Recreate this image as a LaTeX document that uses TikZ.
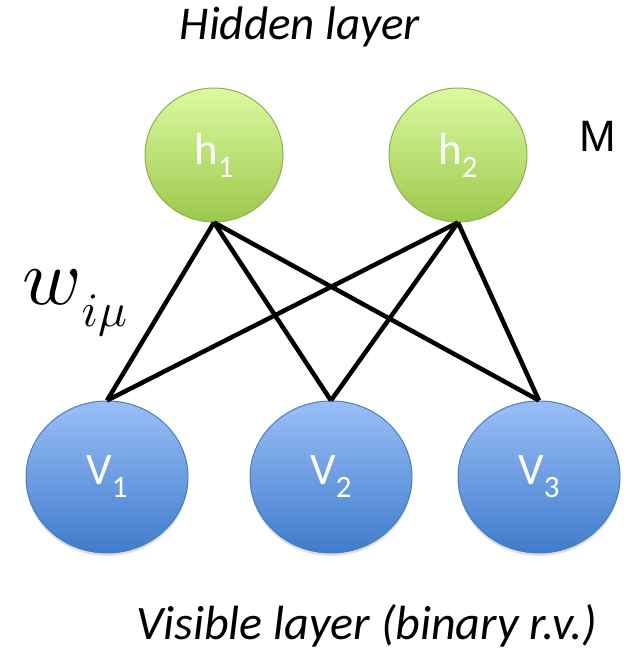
\documentclass[tikz,border=0pt]{standalone}
\usepackage{fontspec}
\usepackage{graphicx}
\setmainfont{Carlito}
\newfontfamily\arialfont{Liberation Sans}
\usetikzlibrary{shapes.geometric,shadows}

\definecolor{hidtop}{HTML}{DBFAA0}
\definecolor{hidbot}{HTML}{9CC84C}
\definecolor{hidline}{HTML}{8DB24E}
\definecolor{vistop}{HTML}{9ABFF8}
\definecolor{visbot}{HTML}{3F7CCC}
\definecolor{visline}{HTML}{4A7EBB}

\newcommand{\unitlabel}[2]{{\fontsize{45}{45}\selectfont #1\raisebox{-13pt}{\fontsize{31}{31}\selectfont #2}}}

\begin{document}
\begin{tikzpicture}[x=1pt, y=1pt,
    hidden/.style={ellipse, minimum width=138pt, minimum height=134pt, inner sep=0pt,
        top color=hidtop, bottom color=hidbot, draw=hidline, line width=1pt, text=white},
    visible/.style={ellipse, minimum width=162pt, minimum height=152pt, inner sep=0pt,
        top color=vistop, bottom color=visbot, draw=visline, line width=1pt, text=white,
        drop shadow={opacity=0.25, shadow xshift=0pt, shadow yshift=-3pt}},
    weight/.style={line width=4.5pt}
]
\useasboundingbox (0,0) rectangle (631,651);

% Hidden units
\node[hidden] (h1) at (214,496) {\unitlabel{h}{1}};
\node[hidden] (h2) at (458,496) {\unitlabel{h}{2}};

% Visible units
\node[visible] (v1) at (107,174) {\unitlabel{V}{1}};
\node[visible] (v2) at (331,174) {\unitlabel{V}{2}};
\node[visible] (v3) at (539,174) {\unitlabel{V}{3}};

% Weights
\foreach \h in {h1,h2}
    \foreach \v in {v1,v2,v3}
        \draw[weight] (\h.south) -- (\v.north);

% Labels
\node[anchor=base, font=\fontsize{47}{47}\selectfont\itshape] (hidlabel) at (300,611) {Hidden layer};
\node[anchor=base, font=\fontsize{48}{48}\selectfont\itshape] (vislabel) at (367,12) {Visible layer (binary r.v.)};
\node[font=\fontsize{44}{44}\selectfont\arialfont] (mlabel) at (598,515) {M};
\node[anchor=base west, inner sep=0pt] (wlabel) at (22,346)
    {\scalebox{8}{$w$}\raisebox{-22pt}{\scalebox{4.8}{$i\mu$}}};

\end{tikzpicture}
\end{document}
